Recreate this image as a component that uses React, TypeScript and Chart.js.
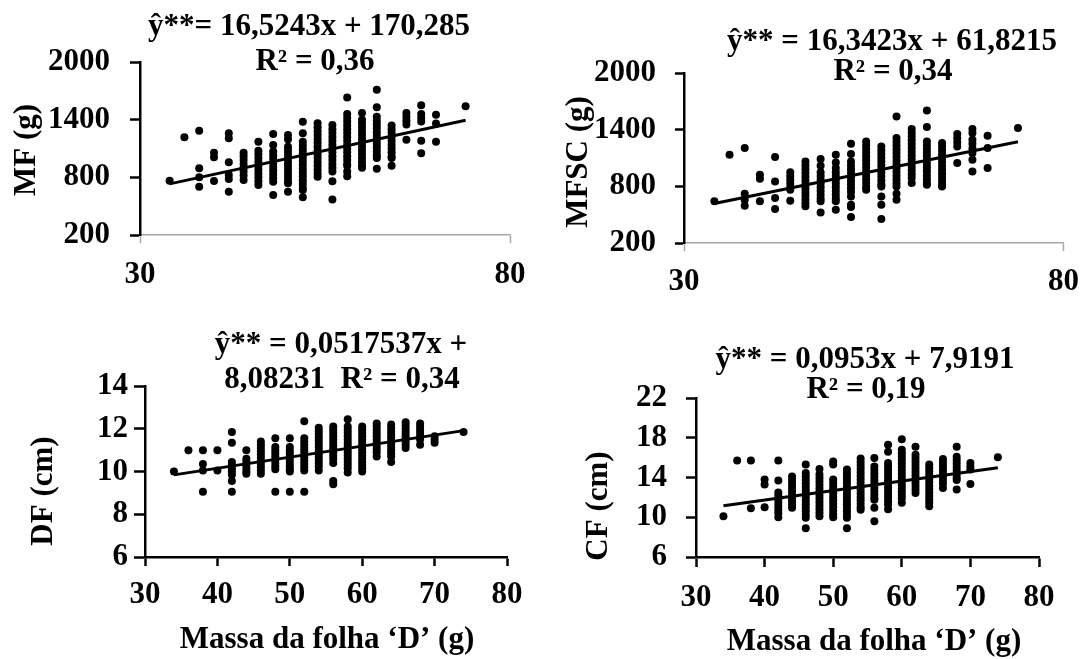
import React, { useEffect, useRef } from "react";
import { Chart, registerables } from "chart.js";

Chart.register(...registerables);

// ---------- data ----------
const massaX = [34, 36, 38, 40, 42, 44, 46, 48, 50, 52, 54, 56, 58, 60, 62, 64, 66, 68, 70, 74];

const mfY = [
  [765],
  [1217],
  [1285, 894, 800, 703],
  [1057, 1008, 762],
  [1258, 1206, 956, 824, 783, 650],
  [1057, 1020, 980, 940, 900, 860, 820, 772],
  [1171, 1077, 1040, 1000, 960, 920, 880, 840, 800, 760, 720],
  [1251, 1136, 1070, 1030, 990, 950, 910, 870, 830, 790, 755, 616],
  [1240, 1196, 1119, 1080, 1040, 1000, 960, 920, 880, 840, 800, 760, 738, 650],
  [1379, 1258, 1171, 1130, 1090, 1050, 1010, 970, 930, 890, 850, 810, 770, 730, 690, 668, 592],
  [1362, 1320, 1280, 1240, 1200, 1160, 1120, 1080, 1040, 1000, 960, 920, 880, 840, 807],
  [1344, 1300, 1260, 1220, 1180, 1140, 1100, 1060, 1020, 980, 940, 900, 860, 760, 570],
  [1630, 1460, 1420, 1380, 1340, 1300, 1260, 1220, 1180, 1140, 1100, 1060, 1020, 980, 940, 920, 860, 810],
  [1470, 1400, 1360, 1320, 1280, 1240, 1200, 1160, 1120, 1080, 1040, 1000, 960, 920, 900],
  [1710, 1530, 1430, 1390, 1350, 1310, 1270, 1230, 1190, 1150, 1110, 1070, 1030, 1000, 890],
  [1340, 1300, 1260, 1220, 1180, 1140, 1100, 1060, 1020, 1000, 920],
  [1470, 1430, 1390, 1350, 1190],
  [1550, 1460, 1420, 1380, 1180, 1050],
  [1450, 1360, 1170],
  [1540],
];

const mfscY = [
  [641],
  [1135],
  [1206, 722, 658, 595],
  [923, 881, 641],
  [1111, 852, 676, 560],
  [948, 910, 870, 830, 790, 764, 648],
  [1064, 1020, 980, 940, 900, 860, 820, 780, 740, 700, 660, 620, 588],
  [1089, 1018, 948, 910, 870, 830, 790, 750, 710, 670, 641, 524],
  [1135, 1053, 994, 950, 910, 870, 830, 790, 750, 710, 670, 641, 553],
  [1250, 1142, 1064, 1020, 980, 940, 900, 860, 820, 780, 740, 693, 605, 581, 475],
  [1276, 1236, 1196, 1156, 1116, 1076, 1036, 996, 956, 916, 876, 836, 796, 764],
  [1223, 1183, 1143, 1103, 1063, 1023, 983, 943, 903, 863, 823, 799, 693, 605, 454],
  [1540, 1312, 1272, 1232, 1192, 1152, 1112, 1072, 1032, 992, 952, 912, 872, 832, 799, 722, 658],
  [1407, 1367, 1327, 1287, 1247, 1207, 1167, 1127, 1087, 1047, 1007, 967, 927, 887, 835],
  [1604, 1428, 1276, 1236, 1196, 1156, 1116, 1076, 1036, 996, 956, 916, 876, 836, 817],
  [1259, 1219, 1179, 1139, 1099, 1059, 1019, 979, 939, 899, 859, 819, 799],
  [1354, 1310, 1265, 1223, 1047],
  [1407, 1365, 1294, 1250, 1200, 1153, 1082, 958],
  [1336, 1206, 994],
  [1418],
];

const dfY = [
  [10.0],
  [11.0],
  [11.0, 10.35, 10.05, 9.05],
  [11.0, 10.05],
  [11.85, 11.35, 10.45, 10.3, 10.15, 10.0, 9.85, 9.55, 9.05],
  [11.0, 10.6, 10.45, 10.3, 10.15, 10.0, 9.9],
  [11.4, 11.25, 11.1, 10.95, 10.8, 10.65, 10.5, 10.35, 10.2, 10.05, 9.9],
  [11.55, 11.15, 11.0, 10.85, 10.7, 10.55, 10.4, 10.25, 10.1, 9.05],
  [11.55, 11.15, 11.0, 10.85, 10.7, 10.55, 10.4, 10.25, 10.1, 10.0, 9.05],
  [12.35, 11.55, 11.4, 11.25, 11.1, 10.95, 10.8, 10.65, 10.5, 10.35, 10.2, 10.05, 9.05],
  [12.05, 11.9, 11.75, 11.6, 11.45, 11.3, 11.15, 11.0, 10.85, 10.7, 10.55, 10.4, 10.25, 10.05],
  [12.1, 11.95, 11.8, 11.65, 11.5, 11.35, 11.2, 11.05, 10.9, 10.75, 10.6, 10.4, 9.55, 9.4],
  [12.45, 12.1, 11.95, 11.8, 11.65, 11.5, 11.35, 11.2, 11.05, 10.9, 10.75, 10.6, 10.45, 10.3, 10.15, 9.95],
  [12.1, 11.95, 11.8, 11.65, 11.5, 11.35, 11.2, 11.05, 10.9, 10.75, 10.6, 10.45, 10.3, 10.15, 10.0],
  [12.25, 12.1, 11.95, 11.8, 11.65, 11.5, 11.35, 11.2, 11.05, 10.9, 10.7],
  [12.2, 12.05, 11.9, 11.75, 11.6, 11.45, 11.3, 11.15, 11.0, 10.85, 10.7, 10.45],
  [12.3, 12.15, 12.0, 11.85, 11.7, 11.55, 11.4, 11.25, 11.1],
  [12.25, 12.1, 11.95, 11.8, 11.65, 11.5, 11.25],
  [11.65, 11.5, 11.35],
  [11.85],
];

const cfY = [
  [10.1],
  [15.7],
  [15.7, 10.9],
  [13.8, 13.3, 11.0],
  [15.7, 13.7, 12.5, 12.15, 11.8, 11.45, 11.1, 10.75, 10.4, 10.0],
  [14.1, 13.75, 13.4, 13.05, 12.7, 12.35, 12.0, 11.65, 11.3, 10.95],
  [15.3, 14.45, 14.1, 13.75, 13.4, 13.05, 12.7, 12.35, 12.0, 11.65, 11.3, 10.95, 10.6, 10.25, 9.95, 8.9],
  [14.85, 14.3, 13.95, 13.6, 13.25, 12.9, 12.55, 12.2, 11.85, 11.5, 11.15, 10.8, 10.45, 10.1],
  [15.6, 15.3, 13.8, 13.45, 13.1, 12.75, 12.4, 12.05, 11.7, 11.35, 11.0, 10.65, 10.3, 10.0],
  [14.8, 14.45, 14.1, 13.75, 13.4, 13.05, 12.7, 12.35, 12.0, 11.65, 11.3, 10.95, 10.6, 10.25, 9.95, 8.9],
  [15.9, 15.55, 15.2, 14.85, 14.5, 14.15, 13.8, 13.45, 13.1, 12.75, 12.4, 12.05, 11.7, 11.35, 11.0, 10.75],
  [15.95, 15.1, 14.75, 14.4, 14.05, 13.7, 13.35, 13.0, 12.65, 12.3, 11.95, 11.75, 10.95, 9.6],
  [17.3, 16.6, 15.45, 15.1, 14.75, 14.4, 14.05, 13.7, 13.35, 13.0, 12.65, 12.3, 11.95, 11.6, 11.25, 10.8],
  [17.85, 16.8, 16.45, 16.1, 15.75, 15.4, 15.05, 14.7, 14.35, 14.0, 13.65, 13.3, 12.95, 12.6, 12.25, 11.9, 11.45],
  [17.1, 16.3, 15.95, 15.6, 15.25, 14.9, 14.55, 14.2, 13.85, 13.5, 13.15, 12.8, 12.45],
  [15.3, 14.95, 14.6, 14.25, 13.9, 13.55, 13.2, 12.85, 12.5, 12.15, 11.8, 11.45, 11.1],
  [15.85, 15.5, 15.15, 14.8, 14.45, 14.1, 13.75, 13.4, 12.95],
  [17.1, 16.1, 15.75, 15.4, 15.05, 14.7, 14.35, 14.0, 13.75, 12.8],
  [15.45, 15.1, 14.8, 13.35],
  [16.05],
];

// regression coefficients [slope, intercept] and fitted x range
const mfFit = [16.5243, 170.285];
const mfscFit = [16.3423, 61.8215];
const dfFit = [0.0517537, 8.08231];
const cfFit = [0.0953, 7.9191];
const fitRange = [34, 74];

// tick labels
const xTicksTop = [30, 80];
const xTicksBottom = [30, 40, 50, 60, 70, 80];
const massTicks = [200, 800, 1400, 2000];
const dfTicks = [6, 8, 10, 12, 14];
const cfTicks = [6, 10, 14, 18, 22];

// texts
const mfEquation = ["ŷ**= 16,5243x + 170,285", "R² = 0,36"];
const mfscEquation = ["ŷ** = 16,3423x + 61,8215", "R² = 0,34"];
const dfEquation = ["ŷ** = 0,0517537x +", "8,08231  R² = 0,34"];
const cfEquation = ["ŷ** = 0,0953x + 7,9191", "R² = 0,19"];
const yTitles = ["MF (g)", "MFSC (g)", "DF (cm)", "CF (cm)"];
const xTitle = "Massa da folha ‘D’ (g)";

// ---------- layout / style ----------
const FONT_FAMILY = '"Liberation Serif", "Times New Roman", serif';
const FONT_SIZE = 31;
const FONT = `bold ${FONT_SIZE}px ${FONT_FAMILY}`;

type Panel = {
  ox: number; oy: number; w: number; h: number;
  L: number; R: number; T: number; B: number;
  ys: number[][]; fit: number[]; yTicks: number[]; xTicks: number[];
  yLen: number; yPad: number; xLen: number; xPad: number;
  topStyle: boolean;
  texts: { text: string; x: number; y: number; rotate?: boolean }[];
};

const panels: Panel[] = [
  {
    ox: 0, oy: 0, w: 545, h: 300, L: 140, R: 510, T: 62, B: 235,
    ys: mfY, fit: mfFit, yTicks: massTicks, xTicks: xTicksTop,
    yLen: 10, yPad: 20, xLen: 8, xPad: 13, topStyle: true,
    texts: [
      { text: mfEquation[0], x: 309, y: 35 },
      { text: mfEquation[1], x: 315, y: 70 },
      { text: yTitles[0], x: 35, y: 150, rotate: true },
    ],
  },
  {
    ox: 545, oy: 0, w: 546, h: 300, L: 684, R: 1067, T: 73, B: 243,
    ys: mfscY, fit: mfscFit, yTicks: massTicks, xTicks: xTicksTop,
    yLen: 9, yPad: 19, xLen: 8, xPad: 12, topStyle: true,
    texts: [
      { text: mfscEquation[0], x: 892, y: 50 },
      { text: mfscEquation[1], x: 893, y: 80 },
      { text: yTitles[1], x: 587, y: 162, rotate: true },
    ],
  },
  {
    ox: 0, oy: 300, w: 545, h: 359, L: 145, R: 507, T: 386, B: 557,
    ys: dfY, fit: dfFit, yTicks: dfTicks, xTicks: xTicksBottom,
    yLen: 11, yPad: 6, xLen: 9, xPad: 10, topStyle: false,
    texts: [
      { text: dfEquation[0], x: 341, y: 353 },
      { text: dfEquation[1], x: 342, y: 388 },
      { text: yTitles[2], x: 52, y: 491, rotate: true },
      { text: xTitle, x: 327, y: 648 },
    ],
  },
  {
    ox: 545, oy: 300, w: 546, h: 359, L: 696, R: 1039, T: 398, B: 557,
    ys: cfY, fit: cfFit, yTicks: cfTicks, xTicks: xTicksBottom,
    yLen: 10, yPad: 19, xLen: 10, xPad: 12, topStyle: false,
    texts: [
      { text: cfEquation[0], x: 865, y: 368 },
      { text: cfEquation[1], x: 866, y: 398 },
      { text: yTitles[3], x: 607, y: 506, rotate: true },
      { text: xTitle, x: 874, y: 650 },
    ],
  },
];

const textPlugin = {
  id: "panelText",
  afterDraw(chart: any, _args: any, opts: any) {
    const ctx = chart.ctx as CanvasRenderingContext2D;
    ctx.save();
    ctx.fillStyle = "#000";
    ctx.font = FONT;
    for (const t of opts.items || []) {
      ctx.save();
      ctx.translate(t.x, t.y);
      if (t.rotate) ctx.rotate(-Math.PI / 2);
      ctx.textAlign = "center";
      ctx.textBaseline = "alphabetic";
      ctx.fillText(t.text, 0, 0);
      ctx.restore();
    }
    ctx.restore();
  },
};

function buildConfig(p: Panel): any {
  const points: { x: number; y: number }[] = [];
  massaX.forEach((x, i) => {
    p.ys[i].forEach((y) => points.push({ x, y }));
  });
  const trend = fitRange.map((x) => ({ x, y: p.fit[0] * x + p.fit[1] }));
  // scale boxes large enough to hold their labels (Chart.js clips labels to the scale box)
  const Wy = p.L - p.ox - 2;
  const Hx = p.oy + p.h - p.B - 2;
  const axisGray = "#a6a6a6";
  const xColor = p.topStyle ? axisGray : "#000";
  const tickFont = { family: FONT_FAMILY, size: FONT_SIZE, weight: "bold" };
  return {
    type: "scatter",
    data: {
      datasets: [
        {
          data: trend,
          showLine: true,
          borderColor: "#000",
          borderWidth: 3,
          pointRadius: 0,
          fill: false,
          order: 0,
        },
        {
          data: points,
          pointRadius: 4,
          pointBackgroundColor: "#000",
          pointBorderWidth: 0,
          backgroundColor: "#000",
          borderColor: "#000",
          order: 1,
        },
      ],
    },
    options: {
      responsive: false,
      animation: false,
      devicePixelRatio: 1,
      events: [],
      layout: {
        padding: {
          left: 2,
          right: p.ox + p.w - p.R,
          top: p.T - p.oy,
          bottom: 2,
        },
      },
      plugins: {
        legend: { display: false },
        tooltip: { enabled: false },
        title: { display: false },
        panelText: {
          items: p.texts.map((t) => ({ ...t, x: t.x - p.ox, y: t.y - p.oy })),
        },
      },
      scales: {
        x: {
          type: "linear",
          min: p.xTicks[0],
          max: p.xTicks[p.xTicks.length - 1],
          afterBuildTicks: (scale: any) => {
            scale.ticks = p.xTicks.map((v) => ({ value: v }));
          },
          afterFit: (scale: any) => {
            scale.height = Hx;
          },
          grid: {
            drawOnChartArea: false,
            drawTicks: true,
            tickLength: p.xLen,
            tickColor: xColor,
            tickWidth: p.topStyle ? 1.5 : 2.5,
          },
          border: { color: xColor, width: p.topStyle ? 1.5 : 2.5 },
          ticks: {
            autoSkip: false,
            maxRotation: 0,
            padding: p.xPad,
            color: "#000",
            font: tickFont,
            callback: (v: any) => String(v),
          },
        },
        y: {
          type: "linear",
          min: p.yTicks[0],
          max: p.yTicks[p.yTicks.length - 1],
          afterBuildTicks: (scale: any) => {
            scale.ticks = p.yTicks.map((v) => ({ value: v }));
          },
          afterFit: (scale: any) => {
            scale.width = Wy;
          },
          grid: {
            drawOnChartArea: false,
            drawTicks: true,
            tickLength: p.yLen,
            tickColor: "#000",
            tickWidth: 2.5,
          },
          border: { color: "#000", width: 2.5 },
          ticks: {
            autoSkip: false,
            padding: p.yPad,
            color: "#000",
            font: tickFont,
            callback: (v: any) => String(v),
          },
        },
      },
    },
    plugins: [textPlugin],
  };
}

function PanelChart({ p }: { p: Panel }) {
  const ref = useRef<HTMLCanvasElement | null>(null);
  useEffect(() => {
    if (!ref.current) return;
    const chart = new Chart(ref.current, buildConfig(p));
    return () => chart.destroy();
  }, [p]);
  return (
    <canvas
      ref={ref}
      width={p.w}
      height={p.h}
      style={{ position: "absolute", left: p.ox, top: p.oy, width: p.w, height: p.h }}
    />
  );
}

export default function App() {
  return (
    <div
      style={{
        position: "absolute",
        left: 0,
        top: 0,
        width: 1091,
        height: 659,
        background: "#fff",
        overflow: "hidden",
      }}
    >
      {panels.map((p, i) => (
        <PanelChart key={i} p={p} />
      ))}
    </div>
  );
}
